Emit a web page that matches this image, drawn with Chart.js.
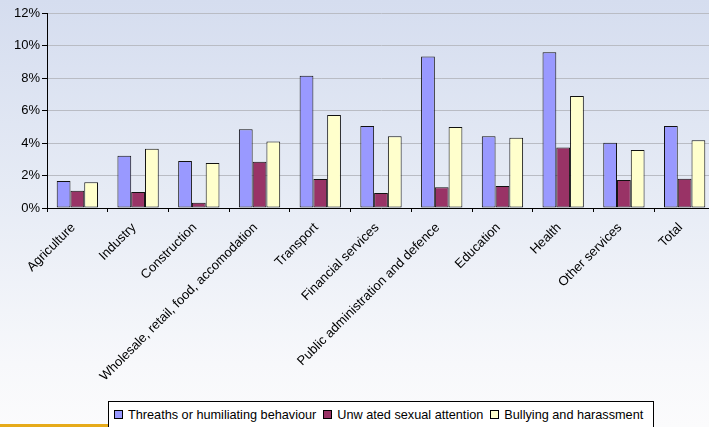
<!DOCTYPE html>
<html>
<head>
<meta charset="utf-8">
<script src="https://cdn.jsdelivr.net/npm/chart.js@4.4.1/dist/chart.umd.min.js"></script>
<style>
html,body{margin:0;padding:0;width:709px;height:427px;overflow:hidden;}
body{background:linear-gradient(to bottom,#d5ddef 0%,#e6ebf5 45%,#f7f8fb 85%,#fbfbfc 100%);position:relative;font-family:"Liberation Sans",Arial,sans-serif;}
#wrap{position:absolute;left:0;top:0;width:722px;height:427px;}
#legend{position:absolute;left:108px;top:401px;width:546px;height:26px;box-sizing:border-box;border:1px solid #000;border-bottom:none;background:#fff;font-size:12.7px;color:#000;display:flex;align-items:center;padding-left:5px;white-space:nowrap;}
#legend span.item{display:inline-flex;align-items:center;margin-right:7px;}
#legend span.box{display:inline-block;width:7px;height:7px;border:1px solid #000;margin-right:5px;}
#orange{position:absolute;left:0;top:424px;width:108px;height:3px;background:#e6aa1a;}
</style>
</head>
<body>
<div id="wrap"><canvas id="c" width="722" height="427"></canvas></div>
<div id="orange"></div>
<div id="legend"></div>
<script>
const categories = ["Agriculture","Industry","Construction","Wholesale, retail, food, accomodation","Transport","Financial services","Public administration and defence","Education","Health","Other services","Total"];
const seriesNames = ["Threaths or humiliating behaviour","Unw ated sexual attention","Bullying and harassment"];
const threats = [1.66,3.22,2.89,4.84,8.14,5.05,9.33,4.41,9.58,4.02,5.05];
const sexual  = [1.06,0.98,0.33,2.85,1.78,0.92,1.27,1.35,3.73,1.72,1.80];
const bullying= [1.58,3.65,2.77,4.10,5.72,4.41,4.98,4.33,6.89,3.57,4.17];
const yTicks = [0,2,4,6,8,10,12];
const colors = ["#9999ff","#993366","#ffffcc"];

const seriesValues = [threats, sexual, bullying];
const datasets = seriesNames.map((n,i)=>({
  label:n, data:seriesValues[i], backgroundColor:colors[i], borderColor:"#111", borderWidth:1,
  categoryPercentage:0.68, barPercentage:1.0, borderSkipped:false
}));

Chart.defaults.font.family = '"Liberation Sans", Arial, sans-serif';
Chart.defaults.color = "#000";

new Chart(document.getElementById("c"), {
  type:"bar",
  data:{labels:categories, datasets},
  options:{
    responsive:false, animation:false,
    layout:{padding:{left:0,right:7,top:13,bottom:0}},
    plugins:{legend:{display:false}, tooltip:{enabled:false}},
    scales:{
      x:{
        offset:true,
        grid:{display:true, drawOnChartArea:false, offset:true, tickLength:4, tickColor:"#000"},
        border:{color:"#000", width:1},
        ticks:{minRotation:45, maxRotation:45, font:{size:13}, color:"#000", padding:8, labelOffset:-4},
        afterFit:(s)=>{ s.height = 219; }
      },
      y:{
        min:0, max:12,
        afterBuildTicks:(s)=>{ s.ticks = yTicks.map(v=>({value:v})); },
        grid:{color:"#b9bcc4", lineWidth:1, tickLength:5, tickColor:"#000"},
        border:{color:"#000", width:1},
        ticks:{font:{size:13}, color:"#000", padding:2, callback:(v)=>v+"%"},
        afterFit:(s)=>{ s.width = 47; }
      }
    }
  }
});

const lg = document.getElementById("legend");
seriesNames.forEach((n,i)=>{
  const it = document.createElement("span"); it.className="item";
  const b = document.createElement("span"); b.className="box"; b.style.background=colors[i];
  it.appendChild(b); it.appendChild(document.createTextNode(n));
  lg.appendChild(it);
});
</script>
</body>
</html>
